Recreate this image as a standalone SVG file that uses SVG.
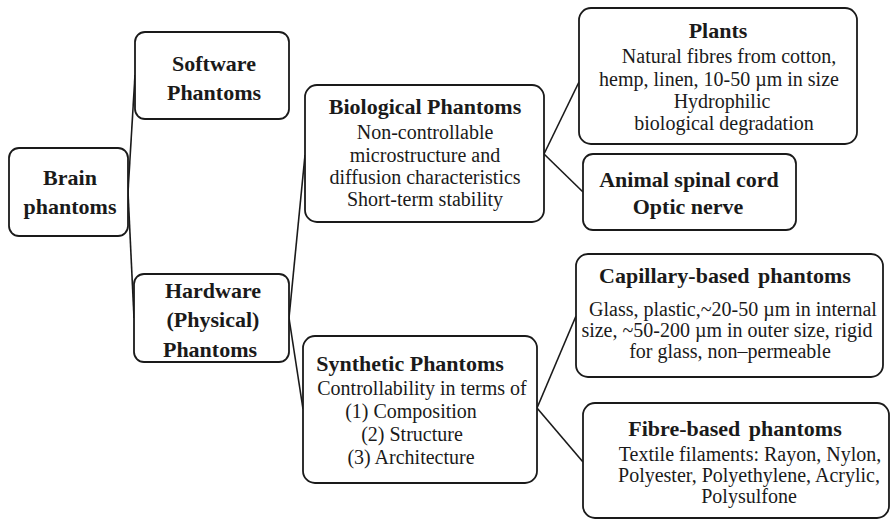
<svg xmlns="http://www.w3.org/2000/svg" width="891" height="519" viewBox="0 0 891 519">
<rect width="891" height="519" fill="#fff"/>
<g id="connectors" fill="none" stroke="#1a1a1a" stroke-width="1.6">
<line x1="128" y1="192" x2="135" y2="75"/>
<line x1="128" y1="192" x2="134" y2="318"/>
<line x1="289" y1="318" x2="305" y2="155"/>
<line x1="289" y1="318" x2="303" y2="409"/>
<line x1="544" y1="154" x2="579" y2="82"/>
<line x1="544" y1="154" x2="583" y2="192"/>
<line x1="537" y1="408" x2="576" y2="316"/>
<line x1="537" y1="408" x2="583" y2="462"/>
</g>
<g id="brain">
<rect x="9" y="148" width="119" height="88" rx="10" fill="#fff" stroke="#1a1a1a" stroke-width="1.8"/>
<text x="70" y="185" font-family="Times New Roman, serif" font-size="22" font-weight="700" text-anchor="middle" fill="#1a1a1a">Brain</text>
<text x="70" y="214" font-family="Times New Roman, serif" font-size="22" font-weight="700" text-anchor="middle" fill="#1a1a1a">phantoms</text>
</g>
<g id="software">
<rect x="135" y="32" width="154" height="87" rx="10" fill="#fff" stroke="#1a1a1a" stroke-width="1.8"/>
<text x="214" y="71" font-family="Times New Roman, serif" font-size="22" font-weight="700" text-anchor="middle" fill="#1a1a1a">Software</text>
<text x="214" y="100" font-family="Times New Roman, serif" font-size="22" font-weight="700" text-anchor="middle" fill="#1a1a1a">Phantoms</text>
</g>
<g id="hardware">
<rect x="134" y="274" width="155" height="88" rx="10" fill="#fff" stroke="#1a1a1a" stroke-width="1.8"/>
<text x="213" y="298" font-family="Times New Roman, serif" font-size="22" font-weight="700" text-anchor="middle" fill="#1a1a1a">Hardware</text>
<text x="213" y="327" font-family="Times New Roman, serif" font-size="22" font-weight="700" text-anchor="middle" fill="#1a1a1a">(Physical)</text>
<text x="210" y="357" font-family="Times New Roman, serif" font-size="22" font-weight="700" text-anchor="middle" fill="#1a1a1a">Phantoms</text>
</g>
<g id="biological">
<rect x="305" y="85" width="239" height="137" rx="12" fill="#fff" stroke="#1a1a1a" stroke-width="1.8"/>
<text x="425" y="114" font-family="Times New Roman, serif" font-size="22" font-weight="700" text-anchor="middle" fill="#1a1a1a">Biological Phantoms</text>
<text x="425" y="139" font-family="Times New Roman, serif" font-size="20" text-anchor="middle" fill="#1a1a1a">Non-controllable</text>
<text x="425" y="162" font-family="Times New Roman, serif" font-size="20" text-anchor="middle" fill="#1a1a1a">microstructure and</text>
<text x="425" y="184" font-family="Times New Roman, serif" font-size="20" text-anchor="middle" fill="#1a1a1a">diffusion characteristics</text>
<text x="425" y="206" font-family="Times New Roman, serif" font-size="20" text-anchor="middle" fill="#1a1a1a">Short-term stability</text>
</g>
<g id="synthetic">
<rect x="303" y="336" width="234" height="147" rx="12" fill="#fff" stroke="#1a1a1a" stroke-width="1.8"/>
<text x="410" y="371" font-family="Times New Roman, serif" font-size="22" font-weight="700" text-anchor="middle" fill="#1a1a1a">Synthetic Phantoms</text>
<text x="422" y="395" font-family="Times New Roman, serif" font-size="20" text-anchor="middle" fill="#1a1a1a">Controllability in terms of</text>
<text x="411" y="418" font-family="Times New Roman, serif" font-size="20" text-anchor="middle" fill="#1a1a1a">(1) Composition</text>
<text x="412" y="441" font-family="Times New Roman, serif" font-size="20" text-anchor="middle" fill="#1a1a1a">(2) Structure</text>
<text x="411" y="464" font-family="Times New Roman, serif" font-size="20" text-anchor="middle" fill="#1a1a1a">(3) Architecture</text>
</g>
<g id="plants">
<rect x="579" y="8" width="278" height="136" rx="12" fill="#fff" stroke="#1a1a1a" stroke-width="1.8"/>
<text x="718" y="38" font-family="Times New Roman, serif" font-size="22" font-weight="700" text-anchor="middle" fill="#1a1a1a">Plants</text>
<text x="729" y="63" font-family="Times New Roman, serif" font-size="20" text-anchor="middle" fill="#1a1a1a">Natural fibres from cotton,</text>
<text x="719" y="86" font-family="Times New Roman, serif" font-size="20" text-anchor="middle" fill="#1a1a1a">hemp, linen, 10-50 µm in size</text>
<text x="722" y="108" font-family="Times New Roman, serif" font-size="20" text-anchor="middle" fill="#1a1a1a">Hydrophilic</text>
<text x="724" y="130" font-family="Times New Roman, serif" font-size="20" text-anchor="middle" fill="#1a1a1a">biological degradation</text>
</g>
<g id="animal">
<rect x="583" y="154" width="213" height="76" rx="10" fill="#fff" stroke="#1a1a1a" stroke-width="1.8"/>
<text x="689" y="187" font-family="Times New Roman, serif" font-size="22" font-weight="700" text-anchor="middle" fill="#1a1a1a">Animal spinal cord</text>
<text x="688" y="214" font-family="Times New Roman, serif" font-size="22" font-weight="700" text-anchor="middle" fill="#1a1a1a">Optic nerve</text>
</g>
<g id="capillary">
<rect x="576" y="254" width="307" height="123" rx="12" fill="#fff" stroke="#1a1a1a" stroke-width="1.8"/>
<text x="725" y="283" font-family="Times New Roman, serif" font-size="22" font-weight="700" text-anchor="middle" fill="#1a1a1a" word-spacing="3">Capillary-based phantoms</text>
<text x="733" y="316" font-family="Times New Roman, serif" font-size="20" text-anchor="middle" fill="#1a1a1a">Glass, plastic,~20-50 µm in internal</text>
<text x="727" y="337" font-family="Times New Roman, serif" font-size="20" text-anchor="middle" fill="#1a1a1a">size, ~50-200 µm in outer size, rigid</text>
<text x="730" y="358" font-family="Times New Roman, serif" font-size="20" text-anchor="middle" fill="#1a1a1a">for glass, non–permeable</text>
</g>
<g id="fibre">
<rect x="583" y="403" width="306" height="115" rx="12" fill="#fff" stroke="#1a1a1a" stroke-width="1.8"/>
<text x="735" y="436" font-family="Times New Roman, serif" font-size="22" font-weight="700" text-anchor="middle" fill="#1a1a1a" word-spacing="3">Fibre-based phantoms</text>
<text x="750" y="461" font-family="Times New Roman, serif" font-size="20" text-anchor="middle" fill="#1a1a1a">Textile filaments: Rayon, Nylon,</text>
<text x="749" y="482" font-family="Times New Roman, serif" font-size="20" text-anchor="middle" fill="#1a1a1a">Polyester, Polyethylene, Acrylic,</text>
<text x="749" y="503" font-family="Times New Roman, serif" font-size="20" text-anchor="middle" fill="#1a1a1a">Polysulfone</text>
</g>
</svg>
